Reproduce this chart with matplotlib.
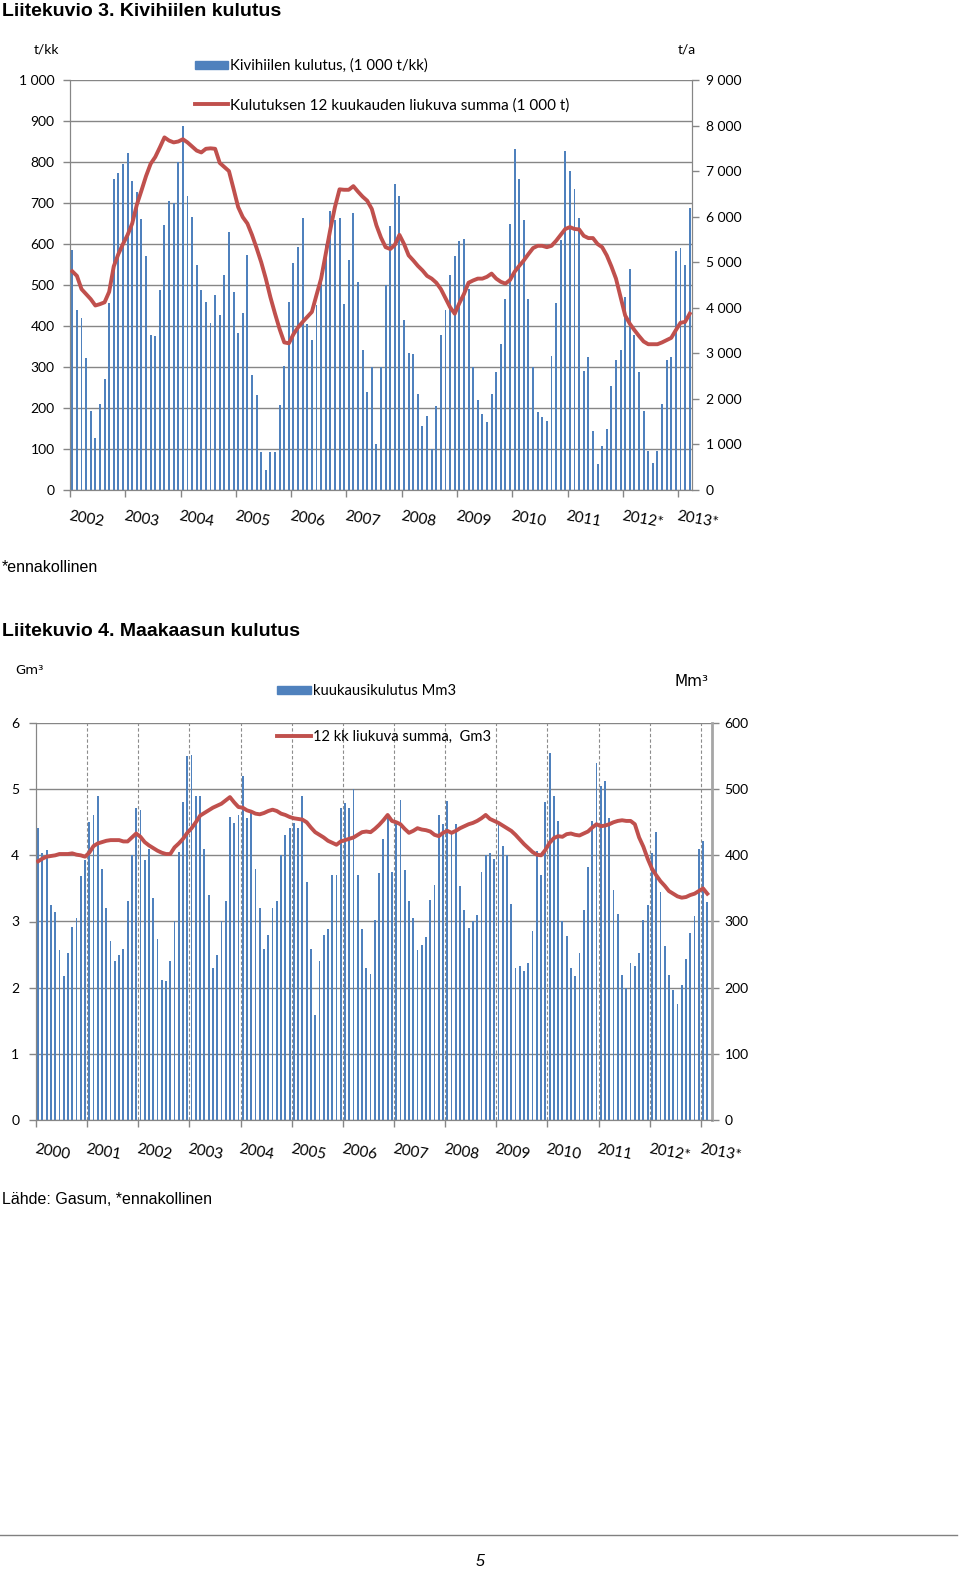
import numpy as np
import matplotlib
matplotlib.use('Agg')
from matplotlib import pyplot as plt
from matplotlib.patches import Rectangle
from matplotlib.lines import Line2D

plt.rcParams['font.family'] = ['Lato', 'DejaVu Sans']

# Liitekuvio 3: kivihiilen kulutus 1/2002 - 3/2013
hiili_vuodet = ['2002', '2003', '2004', '2005', '2006', '2007', '2008',
                '2009', '2010', '2011', '2012*', '2013*']
# kuukausikulutus, 1 000 t/kk
hiili_kk = [585, 440, 420, 322, 192, 128, 210, 270, 456, 758, 774, 796,
            823, 754, 726, 660, 570, 379, 376, 488, 647, 705, 700, 800,
            889, 716, 665, 548, 488, 458, 408, 476, 428, 525, 629, 483,
            383, 432, 573, 280, 231, 92, 50, 93, 92, 208, 303, 458,
            554, 592, 664, 405, 367, 452, 530, 600, 680, 659, 664, 453,
            562, 676, 507, 341, 240, 300, 111, 300, 500, 644, 747, 718,
            414, 335, 331, 234, 156, 180, 99, 204, 379, 438, 525, 571,
            608, 613, 491, 300, 220, 185, 166, 235, 287, 356, 465, 650,
            832, 759, 659, 465, 300, 190, 178, 169, 328, 457, 610, 826,
            777, 735, 663, 290, 324, 144, 64, 108, 149, 253, 318, 342,
            471, 538, 379, 287, 193, 96, 65, 96, 209, 318, 324, 583,
            590, 548, 687]
# 12 kuukauden liukuva summa, 1 000 t
hiili_summa = [4800, 4700, 4410, 4300, 4190, 4050, 4080, 4120, 4350, 4910, 5180, 5400,
               5600, 5850, 6260, 6570, 6890, 7160, 7310, 7520, 7740, 7670, 7630, 7650,
               7700, 7630, 7540, 7450, 7410, 7490, 7500, 7490, 7180, 7090, 7000, 6610,
               6210, 5990, 5850, 5600, 5310, 5000, 4640, 4230, 3870, 3530, 3240, 3220,
               3420, 3570, 3690, 3800, 3910, 4280, 4640, 5180, 5720, 6210, 6600, 6590,
               6590, 6670, 6550, 6440, 6350, 6170, 5810, 5540, 5330, 5290, 5380, 5600,
               5400, 5150, 5040, 4920, 4820, 4700, 4640, 4550, 4410, 4210, 4010, 3870,
               4100, 4300, 4550, 4600, 4640, 4640, 4680, 4750, 4640, 4570, 4530, 4610,
               4790, 4920, 5040, 5180, 5310, 5360, 5360, 5330, 5360, 5470, 5600, 5730,
               5770, 5730, 5720, 5580, 5530, 5530, 5400, 5330, 5150, 4910, 4640, 4230,
               3830, 3650, 3510, 3380, 3260, 3200, 3200, 3200, 3240, 3290, 3340, 3510,
               3670, 3690, 3870]
hiili_vasen = ['0', '100', '200', '300', '400', '500', '600', '700', '800', '900', '1 000']
hiili_oikea = ['0', '1 000', '2 000', '3 000', '4 000', '5 000', '6 000', '7 000', '8 000', '9 000']

# Liitekuvio 4: maakaasun kulutus 1/2000 - 2/2013
kaasu_vuodet = ['2000', '2001', '2002', '2003', '2004', '2005', '2006', '2007',
                '2008', '2009', '2010', '2011', '2012*', '2013*']
# kuukausikulutus, Mm3
kaasu_kk = [441, 403, 408, 325, 315, 257, 218, 252, 291, 305, 369, 393,
            450, 461, 489, 380, 320, 271, 241, 249, 259, 331, 400, 472,
            468, 393, 410, 335, 273, 211, 210, 240, 300, 405, 481, 550,
            551, 489, 489, 410, 340, 229, 249, 300, 331, 458, 449, 461,
            520, 456, 466, 380, 320, 259, 279, 320, 331, 400, 430, 441,
            449, 441, 489, 359, 259, 159, 241, 279, 289, 371, 371, 471,
            479, 471, 500, 371, 289, 229, 221, 302, 374, 425, 462, 375,
            451, 484, 378, 331, 305, 257, 264, 276, 332, 355, 461, 448,
            482, 433, 448, 353, 317, 290, 300, 310, 375, 400, 403, 395,
            446, 414, 400, 327, 229, 233, 225, 238, 285, 406, 370, 481,
            554, 489, 452, 300, 278, 229, 217, 253, 317, 382, 452, 540,
            505, 512, 456, 347, 312, 219, 200, 237, 233, 252, 302, 325,
            403, 435, 344, 263, 219, 196, 176, 204, 244, 283, 309, 410,
            421, 330]
# 12 kk liukuva summa, Gm3
kaasu_summa = [3.91, 3.95, 3.98, 3.99, 4.00, 4.02, 4.02, 4.02, 4.03, 4.01, 4.00, 3.98,
               4.04, 4.14, 4.18, 4.20, 4.22, 4.23, 4.23, 4.23, 4.21, 4.21, 4.27, 4.33,
               4.28, 4.20, 4.15, 4.11, 4.07, 4.04, 4.02, 4.02, 4.12, 4.18, 4.25, 4.34,
               4.41, 4.50, 4.60, 4.64, 4.68, 4.72, 4.75, 4.78, 4.83, 4.88, 4.80, 4.73,
               4.72, 4.68, 4.66, 4.63, 4.62, 4.64, 4.67, 4.69, 4.67, 4.63, 4.61, 4.58,
               4.56, 4.55, 4.54, 4.50, 4.42, 4.35, 4.31, 4.27, 4.22, 4.19, 4.16, 4.21,
               4.23, 4.25, 4.27, 4.31, 4.35, 4.36, 4.35, 4.40, 4.46, 4.53, 4.61, 4.52,
               4.50, 4.47, 4.40, 4.34, 4.37, 4.41, 4.39, 4.38, 4.36, 4.31, 4.29, 4.34,
               4.37, 4.34, 4.37, 4.41, 4.44, 4.47, 4.49, 4.52, 4.56, 4.61, 4.55, 4.52,
               4.49, 4.45, 4.41, 4.37, 4.31, 4.24, 4.17, 4.11, 4.05, 4.01, 4.00, 4.08,
               4.19, 4.26, 4.29, 4.28, 4.32, 4.33, 4.31, 4.30, 4.33, 4.36, 4.42, 4.47,
               4.44, 4.45, 4.47, 4.50, 4.52, 4.53, 4.52, 4.52, 4.47, 4.27, 4.13, 3.95,
               3.80, 3.70, 3.61, 3.54, 3.46, 3.42, 3.38, 3.36, 3.37, 3.40, 3.42, 3.46,
               3.50, 3.42]

SININEN = '#4F81BD'
PUNAINEN = '#C0504D'
HARMAA = '#868686'
W, H = 960, 1572


def fx(px):
    return px / W


def fy(py):
    return 1 - py / H


fig = plt.figure(figsize=(W / 100, H / 100), dpi=100)
fig.patch.set_facecolor('white')


def vuosiakseli(ax, n, vuodet, pad):
    pos = np.arange(0, n, 12) - 0.5
    ax.set_xticks(pos)
    ax.set_xticklabels(vuodet[:len(pos)], rotation=-10, ha='left', va='top',
                       rotation_mode='anchor', fontsize=11)
    ax.tick_params(axis='x', direction='out', length=5, width=1, color=HARMAA, pad=pad)


# ---- Liitekuvio 3 ----
fig.text(fx(2), fy(11), 'Liitekuvio 3. Kivihiilen kulutus', fontsize=14, weight='bold',
         family='Liberation Sans', va='center', ha='left')

ax1 = fig.add_axes([fx(70), fy(490), fx(692) - fx(70), (490 - 80) / H])
x1 = np.arange(len(hiili_kk))
ax1.bar(x1, hiili_kk, width=0.42, color=SININEN, zorder=2)
ax1.set_xlim(-0.5, len(hiili_kk) - 0.5)
ax1.set_ylim(0, 1000)
ax1.set_yticks(np.arange(0, 1001, 100))
ax1.set_yticklabels(hiili_vasen, fontsize=10)
ax1.grid(axis='y', color=HARMAA, lw=1)
ax1.set_axisbelow(True)
ax1.tick_params(axis='y', direction='out', length=5, width=1, color=HARMAA, pad=6)
vuosiakseli(ax1, len(hiili_kk), hiili_vuodet, 9)
ax1.spines['top'].set_visible(False)
for s in ['left', 'bottom', 'right']:
    ax1.spines[s].set_color(HARMAA)

ax1r = ax1.twinx()
ax1r.plot(x1, hiili_summa, color=PUNAINEN, lw=2.8, solid_joinstyle='round', zorder=3)
ax1r.set_ylim(0, 9000)
ax1r.set_yticks(np.arange(0, 9001, 1000))
ax1r.set_yticklabels(hiili_oikea, fontsize=10)
ax1r.tick_params(axis='y', direction='out', length=5, width=1, color=HARMAA, pad=5)
ax1r.spines['top'].set_visible(False)
for s in ['left', 'bottom', 'right']:
    ax1r.spines[s].set_color(HARMAA)

fig.text(fx(46), fy(50), 't/kk', fontsize=10, ha='center', va='center')
fig.text(fx(687), fy(50), 't/a', fontsize=10, ha='center', va='center')
fig.add_artist(Rectangle((fx(195), fy(69)), fx(33), 8 / H, color=SININEN, transform=fig.transFigure))
fig.text(fx(230), fy(66), 'Kivihiilen kulutus, (1 000 t/kk)', fontsize=10.8, ha='left', va='center')
fig.add_artist(Line2D([fx(195), fx(228)], [fy(104), fy(104)], color=PUNAINEN, lw=2.8,
                      transform=fig.transFigure))
fig.text(fx(230), fy(106), 'Kulutuksen 12 kuukauden liukuva summa (1 000 t)', fontsize=11,
         ha='left', va='center')

fig.text(fx(2), fy(567), '*ennakollinen', fontsize=11.5, family='Liberation Sans',
         ha='left', va='center')

# ---- Liitekuvio 4 ----
fig.text(fx(2), fy(631), 'Liitekuvio 4. Maakaasun kulutus', fontsize=14, weight='bold',
         family='Liberation Sans', va='center', ha='left')

ax2 = fig.add_axes([fx(36), fy(1120), fx(712) - fx(36), (1120 - 723) / H])
x2 = np.arange(len(kaasu_kk))
ax2r = ax2.twinx()
# pylväät oikealla akselilla (Mm3), viiva vasemmalla (Gm3) pylväiden päällä
ax2r.bar(x2, kaasu_kk, width=0.42, color=SININEN, zorder=2)
ax2r.set_ylim(0, 600)
ax2r.set_yticks(np.arange(0, 601, 100))
ax2r.tick_params(axis='y', direction='out', length=5, width=1, color=HARMAA, pad=4, labelsize=10)
ax2r.grid(axis='y', color=HARMAA, lw=1)
ax2r.set_axisbelow(True)
for k in range(1, len(kaasu_vuodet)):
    ax2r.axvline(12 * k - 0.5, color='#8C8C8C', lw=0.8, ls=(0, (3, 2)), zorder=1)
ax2r.spines['top'].set_visible(False)
ax2r.spines['right'].set_color('#A6A6A6')
ax2r.spines['right'].set_linewidth(2)
ax2r.spines['left'].set_color(HARMAA)
ax2r.spines['bottom'].set_color(HARMAA)

ax2.set_zorder(ax2r.get_zorder() + 1)
ax2.patch.set_visible(False)
ax2.plot(x2, kaasu_summa, color=PUNAINEN, lw=2.8, solid_joinstyle='round', zorder=3)
ax2.set_xlim(-0.5, len(kaasu_kk) + 0.1)
ax2.set_ylim(0, 6)
ax2.set_yticks(np.arange(0, 7, 1))
ax2.tick_params(axis='y', direction='out', length=5, width=1, color=HARMAA, pad=7, labelsize=10)
vuosiakseli(ax2, len(kaasu_kk), kaasu_vuodet, 11)
ax2.spines['top'].set_visible(False)
ax2.spines['right'].set_visible(False)
ax2.spines['left'].set_color(HARMAA)
ax2.spines['bottom'].set_color(HARMAA)

fig.text(fx(29), fy(670), 'Gm³', fontsize=9.5, family='DejaVu Sans', ha='center', va='center')
fig.text(fx(691), fy(681), 'Mm³', fontsize=11, family='DejaVu Sans', ha='center', va='center')
fig.add_artist(Rectangle((fx(277), fy(694)), fx(34), 8 / H, color=SININEN, transform=fig.transFigure))
fig.text(fx(313), fy(691), 'kuukausikulutus Mm3', fontsize=10.6, ha='left', va='center')
fig.add_artist(Line2D([fx(277), fx(311)], [fy(736), fy(736)], color=PUNAINEN, lw=2.8,
                      transform=fig.transFigure))
fig.text(fx(313), fy(737), '12 kk liukuva summa,  Gm3', fontsize=10.6, ha='left', va='center')

fig.text(fx(2), fy(1199), 'Lähde: Gasum, *ennakollinen', fontsize=11.5, family='Liberation Sans',
         ha='left', va='center')

# sivun alaosa
fig.add_artist(Line2D([0, fx(957)], [fy(1535), fy(1535)], color='#808080', lw=1,
                      transform=fig.transFigure))
fig.text(fx(480), fy(1562), '5', fontsize=11.5, style='italic', family='Liberation Sans',
         ha='center', va='center')

fig.savefig('out.png', dpi=100, facecolor='white')
